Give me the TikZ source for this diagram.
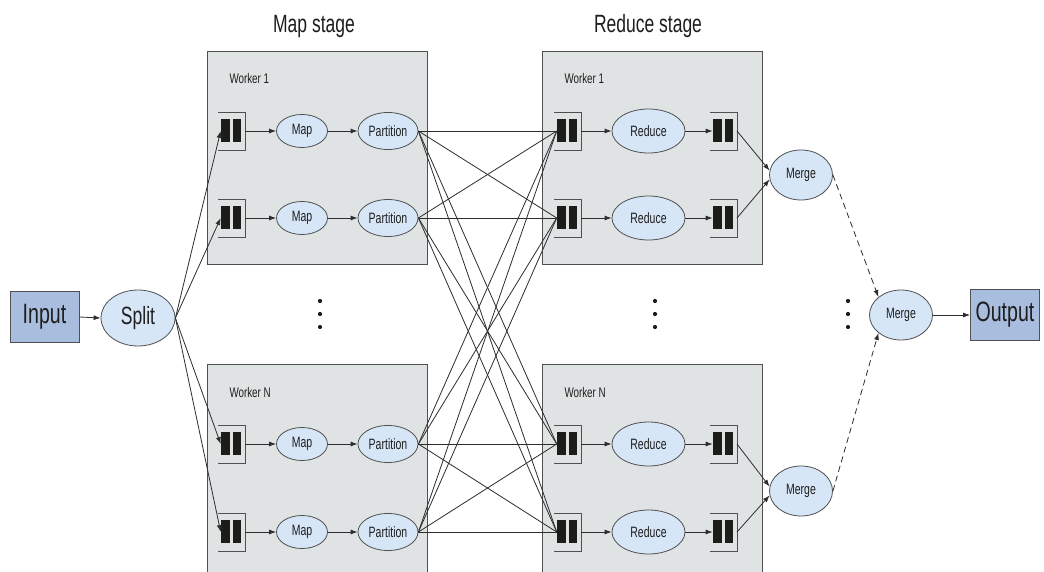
\documentclass[tikz,border=0pt]{standalone}
\usepackage{fontspec}
\setmainfont[FakeStretch=0.7]{Liberation Sans}
\usetikzlibrary{arrows.meta,shapes.geometric}
\definecolor{boxfill}{RGB}{224,227,227}
\definecolor{boxline}{RGB}{80,80,80}
\definecolor{ellfill}{RGB}{214,230,247}
\definecolor{iofill}{RGB}{169,189,222}
\definecolor{lineclr}{RGB}{45,45,45}
\definecolor{barclr}{RGB}{28,28,24}
\definecolor{txtclr}{RGB}{30,30,30}

\newcommand\myqueue[3]{%
  \node[qnode] (#1) at (#2,#3) {};
  \draw[qline] (#1.north west) -- (#1.north east) -- (#1.south east) -- (#1.south west);
  \fill[barclr] ([xshift=2.7pt,yshift=-7pt]#1.north west) rectangle ([xshift=12pt,yshift=8pt]#1.south west);
  \fill[barclr] ([xshift=14.7pt,yshift=-7pt]#1.north west) rectangle ([xshift=22.7pt,yshift=8pt]#1.south west);
  \coordinate (#1-in) at ([xshift=2.7pt]#1.west);
}

\begin{document}
\begin{tikzpicture}[x=1pt,y=-1pt,
  every node/.style={text=txtclr},
  wbox/.style={fill=boxfill,draw=boxline,line width=0.9pt},
  qnode/.style={rectangle,minimum width=27pt,minimum height=38pt,inner sep=0pt,outer sep=0pt},
  qline/.style={draw=boxline,line width=0.7pt},
  ell/.style={ellipse,fill=ellfill,draw=boxline,line width=0.8pt,inner sep=0pt,font=\fontsize{15}{17}\selectfont},
  mapell/.style={ell,minimum width=51pt,minimum height=33pt},
  partell/.style={ell,minimum width=60pt,minimum height=37pt},
  redell/.style={ell,minimum width=73pt,minimum height=44pt},
  mergeell/.style={ell,minimum width=63pt,minimum height=50pt},
  iobox/.style={rectangle,fill=iofill,draw=boxline,line width=0.9pt,minimum width=69pt,minimum height=51pt,inner sep=0pt,font=\fontsize{28}{30}\selectfont},
  conn/.style={draw=lineclr,line width=0.8pt},
  arr/.style={conn,-{Latex[length=7pt,width=5pt]}},
  dasharr/.style={arr,dash pattern=on 6pt off 4pt},
  wlabel/.style={anchor=west,font=\fontsize{14}{16}\selectfont},
  title/.style={anchor=base,font=\fontsize{25}{28}\selectfont},
  dot/.style={fill=barclr}
]
\clip (0,0) rectangle (1044,572);
\fill[white] (0,0) rectangle (1044,572);

% titles
\node[title] (tmap) at (314,33) {Map stage};
\node[title] (tred) at (648,33) {Reduce stage};

% worker boxes
\draw[wbox] (207,51) rectangle (427,264);
\draw[wbox] (207,364) rectangle (427,600);
\draw[wbox] (542,51) rectangle (762,264);
\draw[wbox] (542,364) rectangle (762,600);
\node[wlabel] (wm1) at (226,78) {Worker 1};
\node[wlabel] (wmN) at (226,392) {Worker N};
\node[wlabel] (wr1) at (561,78) {Worker 1};
\node[wlabel] (wrN) at (561,392) {Worker N};

% input / split
\node[iobox] (input) at (44.5,317) {Input};
\node[ell,minimum width=74pt,minimum height=56pt,font=\fontsize{25}{28}\selectfont] (split) at (138,318) {Split};
\node[iobox] (output) at (1005,315) {Output};

% rows
\foreach \i/\y in {1/131,2/218,3/444,4/532}{
  \myqueue{mq\i}{231.5}{\y}
  \node[mapell] (map\i) at (302,\y) {Map};
  \node[partell] (part\i) at (388,\y) {Partition};
  \myqueue{rq\i}{567.5}{\y}
  \node[redell] (red\i) at (648.5,\y) {Reduce};
  \myqueue{oq\i}{723.5}{\y}
}

% merges
\node[mergeell] (merge1) at (801,175) {Merge};
\node[mergeell] (merge2) at (801,491) {Merge};
\node[mergeell] (mergeM) at (901,315) {Merge};

% dots
\foreach \x/\n in {320/a,655/b,848/c}{
  \fill[dot] (\x,301) circle (2.1pt);
  \fill[dot] (\x,314) circle (2.1pt);
  \fill[dot] (\x,327) circle (2.1pt);
}

% connectors
\draw[arr] (input.east) -- (split.west);
\foreach \i in {1,2,3,4}{
  \draw[arr] (split.east) -- (mq\i-in);
  \draw[arr] (mq\i.east) -- (map\i.west);
  \draw[arr] (map\i.east) -- (part\i.west);
  \draw[arr] (rq\i.east) -- (red\i.west);
  \draw[arr] (red\i.east) -- (oq\i-in);
  \foreach \j in {1,2,3,4}{
    \draw[conn] (part\i.east) -- (rq\j-in);
  }
}
\draw[arr] (oq1.east) -- (merge1.172);
\draw[arr] (oq2.east) -- (merge1.188);
\draw[arr] (oq3.east) -- (merge2.172);
\draw[arr] (oq4.east) -- (merge2.188);
\draw[dasharr] (merge1.east) -- (mergeM.north west);
\draw[dasharr] (merge2.east) -- (mergeM.south west);
\draw[arr] (mergeM.east) -- (output.west);
\end{tikzpicture}
\end{document}
